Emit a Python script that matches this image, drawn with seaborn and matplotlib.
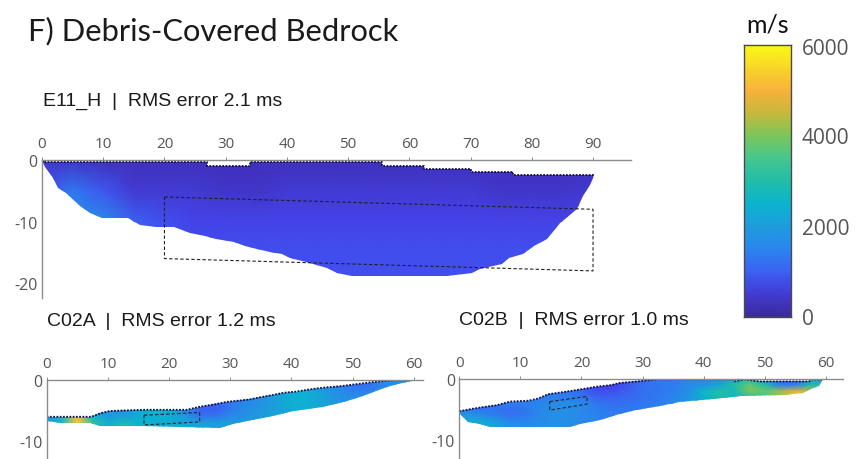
import matplotlib.pyplot as plt
import numpy as np
import pandas as pd
import seaborn as sns
from matplotlib.colors import LinearSegmentedColormap
from matplotlib.patches import Polygon
from matplotlib.transforms import Affine2D

W, H = 856, 460

# colour scale (m/s, colour)
scale_vals = [0, 300, 700, 1000, 1500, 2000, 2500, 3000, 3500, 4000, 4500, 5000, 5500, 6000]
scale_cols = ["#3b2a98", "#4030bd", "#4444ea", "#3b62f2", "#2a85ee", "#1e9cdc", "#0ab4cf",
              "#20bda8", "#45c690", "#7bc65a", "#c5b83a", "#f9b03c", "#f8d628", "#f9fb15"]
bar_vals = [0, 500, 1000, 1500, 2000, 2500, 3000, 3500, 4000, 4500, 5000, 5500, 6000]

e11_top_x = [0, 0.5, 26.9, 34, 55.6, 62.4, 70, 77, 90.2]
e11_top_z = [-0.1, -0.4, -1.0, -0.4, -1.0, -1.5, -2.0, -2.5, -2.5]
e11_bot_x = [0, 0.5, 1.85, 2.67, 4, 6.2, 7.85, 9.75, 14.1, 16, 18.7, 21.5, 24.2, 26.6, 28.5, 31.3,
             33.2, 35.1, 37.3, 39.2, 40.5, 43.2, 46.5, 48.1, 50.6, 66.1, 70.2, 71.5, 73.7, 75.1,
             76.2, 78.6, 80.3, 82.4, 84.6, 87.3, 88.4, 89.5, 90.2]
e11_bot_z = [-0.1, -1.2, -2.9, -4.5, -5.4, -7.4, -8.6, -9.4, -9.4, -10.5, -10.9, -10.9, -11.9, -12.4,
             -12.9, -13.3, -14, -14.4, -15, -15.3, -15.9, -16.6, -17.6, -18.4, -18.75, -18.75, -18.3,
             -17.7, -17.2, -16.8, -15.9, -15.3, -14, -12.9, -10.2, -8, -5.9, -4, -2.6]
e11_box_x = [20, 90, 90, 20, 20]
e11_box_z = [-6, -8, -18, -16, -6]
# m/s / 100, one row per 5 m depth, one column per 5 m
e11_vel = [
    [4, 4, 3, 3, 3, 3, 3, 3, 3, 3, 3, 3, 3, 3, 3, 3, 3, 3, 3],
    [8, 13, 9, 5, 5, 5, 4, 4, 5, 5, 5, 5, 5, 5, 5, 4, 4, 4, 5],
    [15, 18, 16, 10, 8, 7, 7, 7, 7, 7, 7, 7, 7, 7, 7, 7, 7, 7, 7],
    [15, 18, 16, 10, 9, 8, 8, 8, 8, 8, 8, 8, 8, 8, 8, 8, 8, 8, 8],
    [15, 18, 16, 10, 9, 8, 8, 8, 8, 8, 8, 8, 8, 8, 8, 8, 8, 8, 8],
]

a_top_x = [0, 7.3, 8.7, 10.3, 16, 22.9, 25, 27.5, 29.4, 33.2, 35.1, 36.8, 38.7, 40.8, 43.3, 45.2,
           48.2, 51.2, 53.6, 56.6, 59.6]
a_top_z = [-6.05, -6.05, -5.5, -5.1, -4.9, -4.9, -4.4, -4, -3.6, -3.2, -2.8, -2.5, -2.1, -1.9, -1.5,
           -1.26, -1, -0.6, -0.3, -0.05, -0.05]
a_bot_x = [0, 2.4, 7, 8.7, 15.8, 28.3, 30.5, 32.7, 35.4, 37.6, 40.3, 45.2, 49, 51.7, 53.9, 56.1, 59.6]
a_bot_z = [-6.7, -7, -7, -7.5, -7.65, -7.9, -7.3, -6.7, -6.3, -5.8, -5.1, -4.4, -3.4, -2.6, -1.8, -1, -0.2]
a_box_x = [15.9, 25, 25, 15.9, 15.9]
a_box_z = [-5.8, -5.35, -6.9, -7.4, -5.8]
# m/s / 100, one row per 1 m depth, one column per 2.5 m
a_vel = [
    [17, 17, 17, 17, 17, 17, 17, 17, 17, 17, 10, 11, 13, 15, 17, 20, 22, 21, 18, 16, 13, 12, 16, 18, 18],
    [17, 17, 17, 17, 17, 17, 17, 17, 17, 17, 10, 11, 13, 15, 17, 20, 22, 21, 18, 16, 13, 12, 16, 18, 18],
    [17, 17, 17, 17, 17, 17, 17, 17, 17, 17, 10, 11, 13, 15, 18, 21, 24, 24, 21, 17, 15, 15, 18, 18, 18],
    [17, 17, 17, 17, 17, 17, 17, 17, 17, 15, 10, 11, 13, 15, 18, 21, 24, 24, 21, 18, 17, 17, 18, 18, 18],
    [17, 17, 17, 17, 17, 17, 22, 26, 25, 15, 10, 10, 13, 16, 18, 21, 24, 24, 22, 20, 18, 18, 18, 18, 18],
    [17, 17, 17, 17, 18, 20, 23, 26, 25, 17, 10, 10, 14, 17, 19, 21, 23, 24, 22, 20, 18, 18, 18, 18, 18],
    [16, 26, 50, 26, 20, 20, 23, 25, 24, 19, 13, 13, 16, 18, 20, 22, 23, 24, 22, 20, 18, 18, 18, 18, 18],
    [21, 28, 54, 32, 24, 28, 25, 24, 23, 22, 20, 20, 20, 20, 21, 22, 23, 24, 22, 20, 18, 18, 18, 18, 18],
    [21, 26, 32, 28, 26, 32, 26, 24, 23, 23, 23, 23, 21, 20, 21, 22, 23, 24, 22, 20, 18, 18, 18, 18, 18],
]

b_top_x = [0, 2, 3.9, 6.1, 8.3, 11.3, 12.9, 14.5, 17.3, 19.2, 21.1, 22.4, 24.9, 26.2, 29.2, 32.5, 44.8,
           45, 46.7, 49.1, 57.3, 57.6, 59.4]
b_top_z = [-5.3, -4.9, -4.6, -4.3, -3.7, -3.55, -3.2, -2.5, -2.1, -1.8, -1.5, -1.26, -1, -0.65, -0.4,
           -0.05, -0.05, -0.4, -0.05, -0.4, -0.4, -0.05, -0.1]
b_bot_x = [0, 1.5, 3.4, 5, 18.1, 19.7, 23, 25.7, 29, 32.8, 36, 41.5, 46.1, 53.2, 56.2, 57.6, 58.9, 59.4]
b_bot_z = [-5.6, -7.1, -7.4, -7.9, -7.9, -7.4, -6.7, -5.9, -5.1, -4.4, -3.7, -3.3, -2.8, -2.7, -2.3, -1.6, -1.2, -0.3]
b_box_x = [14.8, 20.9, 20.9, 14.8, 14.8]
b_box_z = [-3.7, -2.85, -4.1, -5.1, -3.7]
b_vel = [
    [14, 14, 14, 14, 14, 14, 14, 14, 10, 7, 7, 9, 12, 13, 14, 16, 17, 18, 24, 30, 22, 14, 14, 20, 20],
    [14, 14, 14, 14, 14, 14, 14, 14, 10, 7, 7, 9, 12, 13, 14, 16, 18, 22, 30, 38, 30, 14, 14, 30, 30],
    [14, 14, 14, 14, 14, 14, 14, 14, 11, 8, 8, 10, 12, 13, 14, 17, 26, 30, 28, 40, 38, 42, 48, 44, 36],
    [14, 14, 14, 14, 14, 14, 14, 14, 13, 10, 10, 11, 12, 13, 15, 18, 25, 30, 27, 30, 34, 42, 54, 54, 36],
    [14, 14, 14, 14, 14, 15, 16, 17, 16, 13, 12, 12, 13, 14, 16, 19, 24, 26, 26, 28, 30, 32, 36, 36, 36],
    [16, 13, 13, 12, 12, 15, 17, 17, 16, 14, 13, 13, 14, 15, 16, 19, 24, 26, 26, 28, 30, 32, 36, 36, 36],
    [19, 19, 15, 13, 13, 15, 17, 17, 16, 15, 14, 14, 14, 15, 16, 19, 24, 26, 26, 28, 30, 32, 36, 36, 36],
    [20, 23, 22, 17, 15, 16, 17, 17, 16, 15, 14, 14, 14, 15, 16, 19, 24, 26, 26, 28, 30, 32, 36, 36, 36],
    [20, 23, 23, 20, 17, 18, 18, 18, 17, 16, 15, 14, 14, 15, 16, 19, 24, 26, 26, 28, 30, 32, 36, 36, 36],
]

sns.set_theme(style="white")
plt.rcParams["font.family"] = "Open Sans"

cmap = LinearSegmentedColormap.from_list(
    "velocity", [(v / 6000, c) for v, c in zip(scale_vals, scale_cols)]
)
grey = "#8c8c8c"
tick_grey = "#555555"


def px_axes(fig, left, top, right, bottom):
    return fig.add_axes([left / W, 1 - bottom / H, (right - left) / W, (bottom - top) / H])


def stair(xs, zs):
    # flat runs between the jumps in the surface
    out_x, out_z = [], []
    for i in range(len(xs) - 1):
        out_x += [xs[i], xs[i + 1]]
        out_z += [zs[i], zs[i]]
    return out_x, out_z


def section(ax, vel, dx, dz, top, bot, box, xticks, yticks, xmax, ymin):
    frame = pd.DataFrame(np.array(vel) * 100.0)
    sns.heatmap(frame, ax=ax, cmap=cmap, vmin=0, vmax=6000, cbar=False, shading="gouraud")
    mesh = ax.collections[0]
    mesh.set_transform(Affine2D().scale(dx, -dz) + ax.transData)

    outline = Polygon(list(zip(*top)) + list(zip(*bot))[::-1],
                      closed=True, transform=ax.transData, fc="none", ec="none")
    ax.add_patch(outline)
    mesh.set_clip_path(outline)

    ax.plot(top[0], top[1], color="#10104a", lw=1.3, ls=(0, (1, 0.8)))
    ax.plot(box[0], box[1], color="#222222", lw=0.8, ls=(0, (3, 2)))

    ax.set_xlim(0, xmax)
    ax.set_ylim(ymin, 0)
    ax.set_xticks(xticks)
    ax.set_xticklabels([str(t) for t in xticks], rotation=0)
    ax.set_yticks(yticks)
    ax.set_yticklabels([str(t) for t in yticks], rotation=0, va="center_baseline")
    ax.xaxis.tick_top()
    ax.tick_params(axis="x", length=2.5, width=0.7, color=grey, labelcolor=tick_grey, labelsize=11, pad=4)
    ax.tick_params(axis="y", length=0, labelcolor=tick_grey, labelsize=11.5, pad=3)
    for side in ["top", "left"]:
        ax.spines[side].set_visible(True)
        ax.spines[side].set_color(grey)
        ax.spines[side].set_linewidth(1.0)
    ax.patch.set_alpha(0)


fig = plt.figure(figsize=(W / 100, H / 100), dpi=100, facecolor="white")

ax_e = px_axes(fig, 42, 161, 631, 299)
section(ax_e, e11_vel, 5, 5, stair(e11_top_x, e11_top_z), (e11_bot_x, e11_bot_z), (e11_box_x, e11_box_z),
        list(range(0, 100, 10)), [0, -10, -20], 96.2, -22.4)
ax_a = px_axes(fig, 46.7, 381, 423, 460)
section(ax_a, a_vel, 2.5, 1, (a_top_x, a_top_z), (a_bot_x, a_bot_z), (a_box_x, a_box_z),
        list(range(0, 70, 10)), [0, -10], 61.5, -13)
ax_b = px_axes(fig, 459.3, 380, 843, 460)
section(ax_b, b_vel, 2.5, 1, (b_top_x, b_top_z), (b_bot_x, b_bot_z), (b_box_x, b_box_z),
        list(range(0, 70, 10)), [0, -10], 62.8, -13.1)

# colour bar, built from the same scale
cax = px_axes(fig, 744, 46, 791, 318)
bar = pd.DataFrame({"left": bar_vals, "right": bar_vals})
sns.heatmap(bar, ax=cax, cmap=cmap, vmin=0, vmax=6000, cbar=False, shading="gouraud")
cax.collections[0].set_transform(Affine2D().scale(1, 500) + cax.transData)
cax.set_xlim(0, 1)
cax.set_ylim(0, 6000)
cax.set_xticks([])
cax.set_yticks([2000, 4000])
cax.set_yticklabels([])
cax.yaxis.tick_right()
cax.tick_params(axis="y", direction="in", length=2, width=0.8, color="#333333")
for spine in cax.spines.values():
    spine.set_visible(True)
    spine.set_color("#4a4a4a")
    spine.set_linewidth(1.0)

fig.text(28 / W, 1 - 31 / H, "F) Debris-Covered Bedrock", fontsize=22.2, family="Lato", color="#1a1a1a",
         ha="left", va="center")
fig.text(768 / W, 1 - 25 / H, "m/s", fontsize=18, family="Lato", color="#111111", ha="center", va="center")
for label, y in zip(["6000", "4000", "2000", "0"], [49.5, 138.5, 229.5, 319.5]):
    fig.text(802 / W, 1 - y / H, label, fontsize=15, color=tick_grey, ha="left", va="center")
fig.text(43 / W, 1 - 101 / H, "E11_H  |  RMS error 2.1 ms", fontsize=14, family="Liberation Sans",
         color="#1a1a1a", ha="left", va="center")
fig.text(47 / W, 1 - 322 / H, "C02A  |  RMS error 1.2 ms", fontsize=14, family="Liberation Sans",
         color="#1a1a1a", ha="left", va="center")
fig.text(459 / W, 1 - 321 / H, "C02B  |  RMS error 1.0 ms", fontsize=14, family="Liberation Sans",
         color="#1a1a1a", ha="left", va="center")

fig.savefig("out.png", dpi=100)
